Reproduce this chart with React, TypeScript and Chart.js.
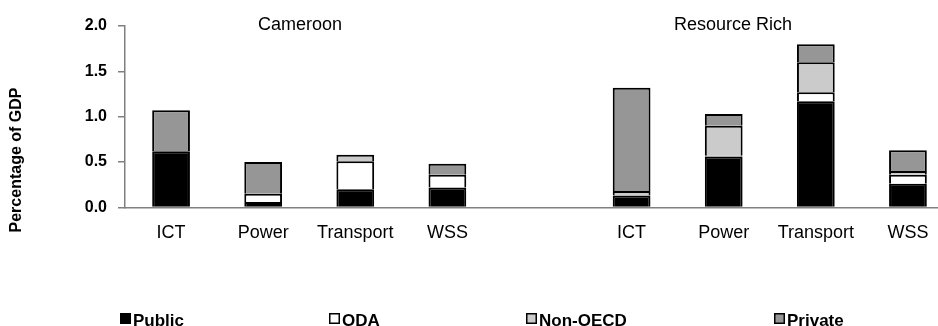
import React, { useEffect, useRef } from "react";
import { Chart, registerables } from "chart.js";

Chart.register(...registerables);

const categories = ["ICT", "Power", "Transport", "WSS", "", "ICT", "Power", "Transport", "WSS"];
const publicValues = [0.62, 0.06, 0.2, 0.22, null, 0.13, 0.56, 1.17, 0.26];
const odaValues = [null, 0.09, 0.31, 0.14, null, null, 0.01, 0.1, 0.1];
const nonOecdValues = [null, null, 0.07, null, null, 0.05, 0.33, 0.33, 0.04];
const privateValues = [0.45, 0.35, null, 0.12, null, 1.14, 0.13, 0.2, 0.23];
const seriesNames = ["Public", "ODA", "Non-OECD", "Private"];
const seriesColors = ["#000000", "#ffffff", "#cbcbcb", "#969696"];
const groupLabels = ["Cameroon", "Resource Rich"];
const groupLabelAt = [1.4, 6.1];
const yTitle = "Percentage of GDP";

const FONT = "'Liberation Sans Narrow', 'Arial Narrow', 'Liberation Sans', Arial, sans-serif";
const legendX = [120, 329, 526, 774];

const overlayPlugin = {
  id: "overlay",
  afterDraw(chart: any) {
    const ctx = chart.ctx;
    const xs = chart.scales.x;
    ctx.save();
    ctx.fillStyle = "#000";
    ctx.font = `18px ${FONT}`;
    ctx.textAlign = "center";
    ctx.textBaseline = "middle";
    groupLabels.forEach((g, i) => {
      ctx.fillText(g, xs.getPixelForValue(groupLabelAt[i]), 25);
    });
    ctx.save();
    ctx.translate(17, 160);
    ctx.rotate(-Math.PI / 2);
    ctx.font = `bold 16px ${FONT}`;
    ctx.fillText(yTitle, 0, 0);
    ctx.restore();
    ctx.font = `bold 17px ${FONT}`;
    ctx.textAlign = "left";
    ctx.textBaseline = "alphabetic";
    chart.data.datasets.forEach((ds: any, i: number) => {
      const bx = legendX[i];
      ctx.fillStyle = ds.backgroundColor;
      ctx.fillRect(bx, 313, 11, 11);
      ctx.strokeStyle = "#000";
      ctx.lineWidth = 1.5;
      ctx.strokeRect(bx + 0.75, 313.75, 9.5, 9.5);
      ctx.fillStyle = "#000";
      ctx.fillText(ds.label, bx + 13, 326);
    });
    ctx.restore();
  },
};

export default function App() {
  const ref = useRef<HTMLCanvasElement>(null);
  useEffect(() => {
    const datasets = [publicValues, odaValues, nonOecdValues, privateValues].map((d, i) => ({
      label: seriesNames[i],
      data: d,
      backgroundColor: seriesColors[i],
      borderColor: "#000",
      borderWidth: 2,
      barPercentage: 0.41,
      categoryPercentage: 1,
    }));
    const chart = new Chart(ref.current!, {
      type: "bar",
      data: { labels: categories, datasets },
      options: {
        animation: false,
        responsive: false,
        layout: { padding: { top: 26, left: 0, right: 6, bottom: 67 } },
        plugins: { legend: { display: false }, tooltip: { enabled: false } },
        scales: {
          x: {
            stacked: true,
            grid: { display: false, drawTicks: false },
            border: { display: true, color: "#808080", width: 1.5 },
            ticks: { color: "#000", padding: 15, font: { family: FONT, size: 18 } },
          },
          y: {
            stacked: true,
            min: 0,
            max: 2,
            afterFit: (s: any) => {
              s.width = 125;
            },
            grid: { drawOnChartArea: false, drawTicks: true, tickLength: 7, color: "#808080", lineWidth: 1.5 },
            border: { display: true, color: "#808080", width: 1.5 },
            ticks: {
              stepSize: 0.5,
              color: "#000",
              padding: 11,
              font: { family: FONT, size: 16, weight: "bold" },
              callback: (v: any) => Number(v).toFixed(1),
            },
          },
        },
      },
      plugins: [overlayPlugin],
    });
    return () => chart.destroy();
  }, []);
  return (
    <div style={{ position: "fixed", left: 0, top: 0, width: 938, height: 326, overflow: "hidden", background: "#fff" }}>
      <canvas ref={ref} width={960} height={326} style={{ width: 960, height: 326, display: "block" }} />
    </div>
  );
}
